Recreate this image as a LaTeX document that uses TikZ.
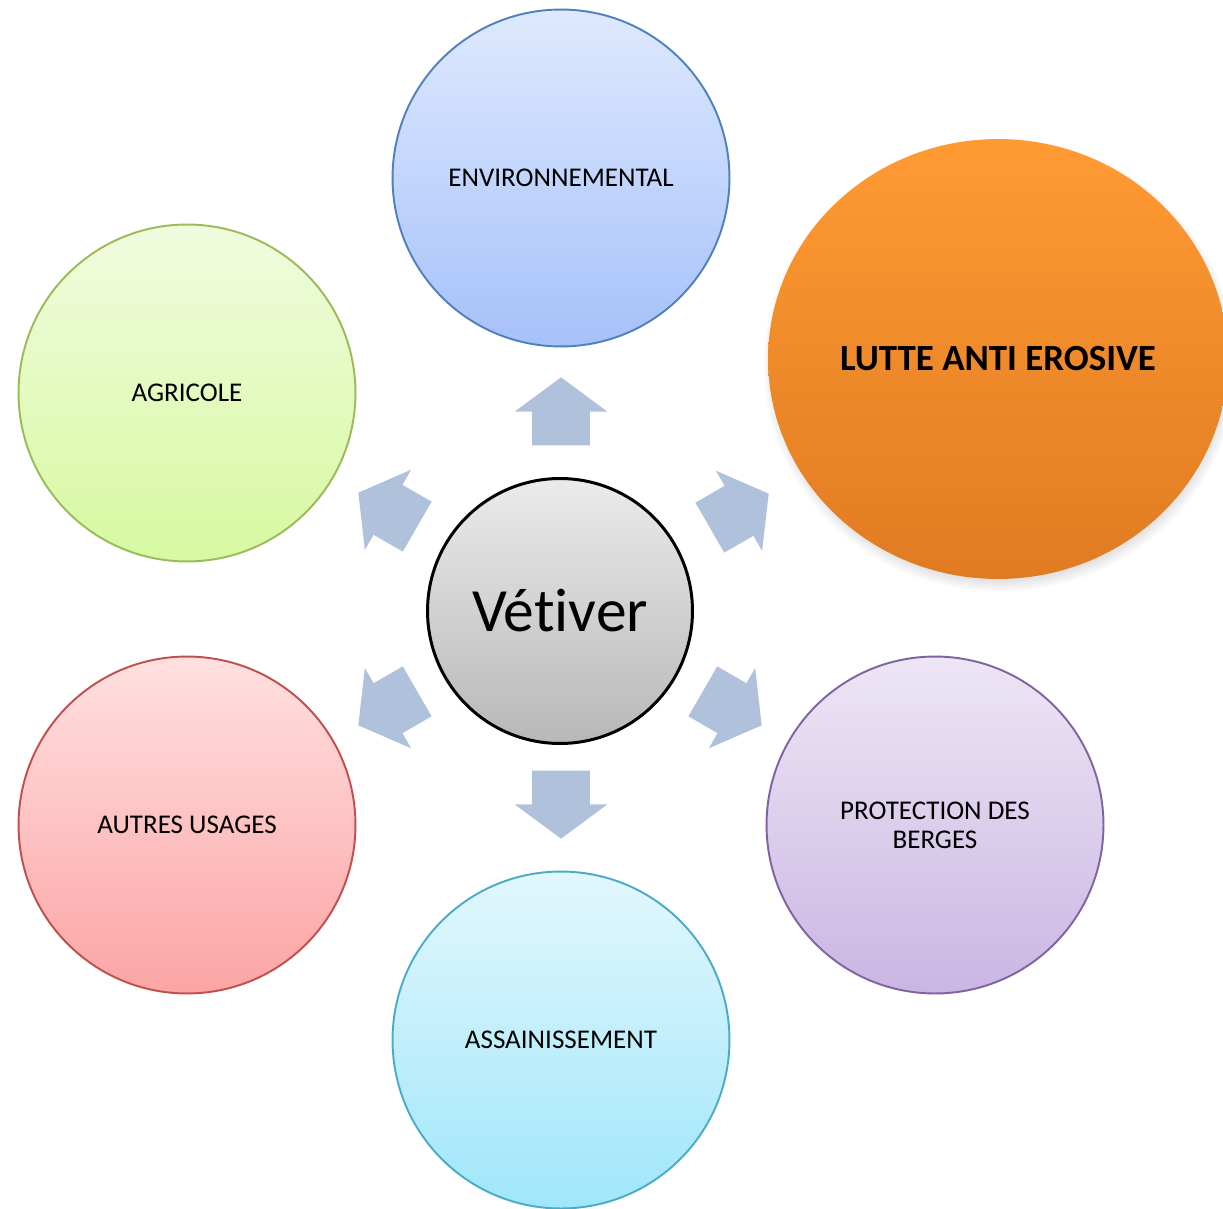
\documentclass[tikz,border=0pt]{standalone}
\usepackage{fontspec}
\setmainfont{Carlito}[Ligatures=NoCommon]
\usetikzlibrary{shapes.arrows}
\usetikzlibrary{shapes.geometric}
\usetikzlibrary{shadows}

\definecolor{envline}{HTML}{4F81BD}
\definecolor{agrline}{HTML}{9BBB59}
\definecolor{autline}{HTML}{C0504D}
\definecolor{assline}{HTML}{4BACC6}
\definecolor{proline}{HTML}{8064A2}
\definecolor{flecheblue}{HTML}{B0C1DC}

\begin{document}
\begin{tikzpicture}[x=0.02cm,y=-0.02cm,
  usage/.style={circle,draw,line width=1.1pt,minimum size=6.74cm,inner sep=0pt,align=center,
    font=\fontsize{15.4}{16.5}\selectfont},
  fleche/.style={single arrow,fill=flecheblue,draw=none,minimum height=1.36cm,
    inner xsep=0pt,inner ysep=0.57cm,single arrow head extend=0.35cm,single arrow tip angle=107}]
\useasboundingbox (0,0) rectangle (1223,1209);

% centre
\node [circle,draw,line width=1.7pt,minimum size=5.3cm,top color=black!8,bottom color=black!28,
  font=\fontsize{35}{40}\selectfont] (vet) at (560,611) {Vétiver};

% usages
\node [usage,draw=envline,top color={rgb,255:red,222;green,233;blue,253},bottom color={rgb,255:red,166;green,193;blue,250}] (env) at (561,178) {ENVIRONNEMENTAL};
\node [usage,draw=agrline,top color={rgb,255:red,241;green,251;blue,223},bottom color={rgb,255:red,214;green,249;blue,160}] (agr) at (187,393) {AGRICOLE};
\node [usage,draw=autline,top color={rgb,255:red,255;green,224;blue,224},bottom color={rgb,255:red,252;green,164;blue,164}] (aut) at (187,825) {AUTRES USAGES};
\node [usage,draw=assline,top color={rgb,255:red,226;green,247;blue,253},bottom color={rgb,255:red,160;green,230;blue,250}] (ass) at (561,1040) {ASSAINISSEMENT};
\node [usage,draw=proline,top color={rgb,255:red,237;green,230;blue,245},bottom color={rgb,255:red,202;green,182;blue,227}] (pro) at (935,825) {PROTECTION DES\\BERGES};
\node [ellipse,minimum width=9.2cm,minimum height=8.8cm,inner sep=0pt,top color={rgb,255:red,255;green,154;blue,51},
  bottom color={rgb,255:red,224;green,123;blue,34},
  circular drop shadow={shadow xshift=0.03cm,shadow yshift=-0.12cm,shadow scale=1.03,opacity=0.6},
  font=\bfseries\fontsize{21}{24}\selectfont] (lae) at (998,359) {LUTTE ANTI EROSIVE};

% fleches
\node [fleche,rotate=90] (f1) at (561,422) {};
\node [fleche,rotate=-90] (f2) at (561,794) {};
\node [fleche,rotate=30] (f3) at (730,516) {};
\node [fleche,rotate=150] (f4) at (397,515) {};
\node [fleche,rotate=210] (f5) at (397,703) {};
\node [fleche,rotate=-30] (f6) at (723,703) {};
\end{tikzpicture}
\end{document}
